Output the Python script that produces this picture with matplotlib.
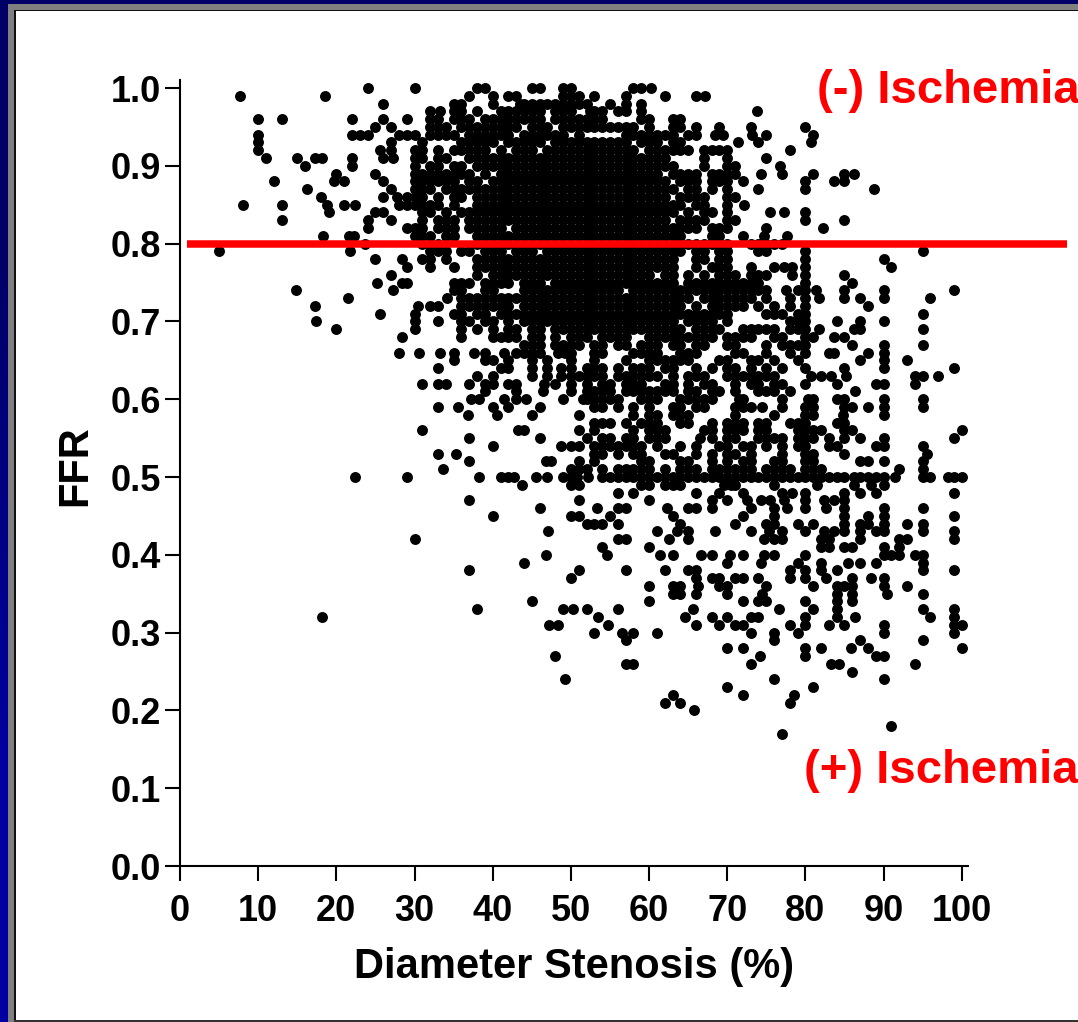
#!/usr/bin/env python3
"""FFR vs diameter stenosis scatter, slide style frame"""

import matplotlib
matplotlib.use('Agg')
import matplotlib.pyplot as plt
import numpy as np
from matplotlib.patches import Rectangle

W, H = 1078, 1022

ffr_levels = [1.00, 0.99, 0.98, 0.97, 0.96, 0.95, 0.94, 0.93, 0.92, 0.91,
              0.90, 0.89, 0.88, 0.87, 0.86, 0.85, 0.84, 0.83, 0.82, 0.81,
              0.80, 0.79, 0.78, 0.77, 0.76, 0.75, 0.74, 0.73, 0.72, 0.71,
              0.70, 0.69, 0.68, 0.67, 0.66, 0.65, 0.64, 0.63, 0.62, 0.61,
              0.60, 0.59, 0.58, 0.57, 0.56, 0.55, 0.54, 0.53, 0.52, 0.51,
              0.50, 0.49, 0.48, 0.47, 0.46, 0.45, 0.44, 0.43, 0.42, 0.41,
              0.40, 0.39, 0.38, 0.37, 0.36, 0.35, 0.34, 0.33, 0.32, 0.31,
              0.30, 0.29, 0.28, 0.27, 0.26, 0.25, 0.24, 0.23, 0.22, 0.21,
              0.20, 0.19, 0.18, 0.17]

# stenosis values, one row per ffr level
stenosis_rows = [
    [24, 30, 38, 39, 45, 46, 49, 50, 58, 59, 60.2],
    [7.7, 18.5, 37, 40, 42, 43, 49, 50, 51, 53, 57, 62, 66, 67.2],
    [26, 35, 36, 40, 43.5, 44, 45, 46, 47, 48, 49, 50, 51, 52, 55, 57, 59],
    [32, 33.3, 35, 36, 38, 41, 42, 43, 44, 45, 46, 48, 49, 50, 52.5, 53, 54, 56, 57, 59, 73.8],
    [10, 13, 22, 26, 29, 32, 33, 35, 36, 37, 39, 40, 41, 42, 43, 44, 45, 46, 48, 49, 50, 51, 52, 53, 54, 59, 60, 63, 64],
    [25, 27, 32, 33, 34, 36, 37, 38, 39, 40, 41, 42, 43, 45, 46, 47, 49, 50, 51, 52, 53, 54, 55, 56, 57, 58, 60, 63, 64, 66, 69, 73, 80],
    [10, 22, 23, 24, 28, 29, 30, 32, 33, 34, 35, 37, 38, 39, 40, 41, 42, 44, 45, 46, 47, 48, 49, 51, 57, 58, 59, 60, 61, 62, 63, 65, 66, 68.5, 69.5, 73.2, 75, 81],
    [10, 27, 31, 36, 37, 38, 39, 40, 42, 43, 44, 45, 46, 48, 49, 50, 51, 52, 53, 54, 55, 56, 57, 59, 60, 61, 63, 64, 71.4, 74, 80.7],
    [10, 25.6, 27, 30, 31, 33, 35, 36, 37, 38, 39, 41, 43, 44, 45, 47, 48, 49, 50, 51, 52, 53, 54, 55, 56, 57, 58, 60, 61, 62, 63, 64, 65, 67, 68, 69, 70, 78],
    [11, 15, 17.3, 18.2, 22, 26, 27.3, 30, 31, 33, 34, 37, 38, 39, 40, 41, 42, 43, 44, 45, 46, 47, 48, 49, 50, 51, 52, 53, 54, 55, 56, 57, 58, 59, 60, 61, 62, 67, 70, 75],
    [16, 22, 30, 32, 33, 35, 36, 38, 39, 40, 41, 42, 43, 44, 45, 46, 47, 48, 49, 50, 51, 52, 53, 54, 55, 56, 57, 58, 59, 60, 61, 62, 63, 67, 70, 71, 76.8],
    [20, 25, 30, 31, 32, 33, 34, 35, 36, 37, 39, 41, 42, 43, 44, 45, 46, 47, 48, 49, 50, 51, 52, 53, 54, 55, 56, 57, 58, 59, 60, 61, 63, 64, 65, 66, 68, 69, 70, 71, 74.3, 77, 81, 85, 86.2],
    [12, 19.7, 21, 26, 30, 31, 32, 33, 34, 35, 37, 38, 40, 41, 42, 43, 44, 45, 46, 47, 48, 49, 50, 51, 52, 53, 54, 55, 56, 57, 58, 59, 60, 61, 62, 64, 65, 66, 68, 69, 70, 72, 80, 83.7, 85],
    [16.2, 27, 30, 31, 32, 34, 35, 36, 37, 38, 39, 40, 41, 42, 43, 44, 45, 46, 47, 48, 49, 50, 51, 52, 53, 54, 55, 56, 57, 58, 59, 60, 61, 62, 63, 65, 66, 68, 70, 74, 80, 88.8],
    [18, 26, 27.8, 29, 30, 31, 33, 35, 36, 38, 39, 40, 41, 42, 43, 44, 45, 46, 47, 48, 49, 50, 51, 52, 53, 54, 55, 56, 57, 58, 59, 60, 61, 62, 64, 65, 66, 67, 70, 71],
    [8, 13, 18.8, 21, 22.4, 28, 29, 30, 31, 32, 33, 35, 38, 39, 40, 41, 42, 43, 44, 45, 46, 47, 48, 49, 50, 51, 52, 53, 54, 55, 56, 57, 58, 59, 60, 61, 62, 63, 64, 66, 67, 70, 72.2],
    [19, 25, 26, 31, 32, 34, 36, 37, 38, 39, 40, 41, 42, 43, 44, 45, 46, 47, 48, 49, 50, 51, 52, 53, 54, 55, 56, 57, 58, 59, 60, 61, 62, 63, 65, 67, 68, 70, 75.5, 77.2, 80],
    [13, 24, 27, 31, 33, 34, 35, 37, 38, 39, 40, 41, 42, 43, 44, 45, 46, 47, 48, 49, 50, 51, 52, 53, 54, 55, 56, 57, 58, 59, 60, 61, 62, 64, 65, 66, 67, 70, 71, 80, 85],
    [24, 29, 30, 31, 33, 34, 35, 37, 38, 39, 40, 41, 43, 44, 45, 46, 47, 48, 49, 50, 51, 52, 53, 54, 55, 56, 57, 58, 59, 60, 61, 62, 63, 64, 65, 66, 68, 69, 70, 75, 82.3],
    [18.3, 21.6, 22.2, 30, 31, 32, 34, 35, 38, 39, 40, 41, 42, 43, 44, 45, 46, 47, 48, 49, 50, 51, 52, 53, 54, 55, 56, 57, 58, 59, 60, 61, 62, 63, 64, 68, 69, 72, 74.7, 77.7],
    [23.7, 31, 33, 38, 39, 40, 42, 43, 44, 45, 46, 47, 48, 49, 50, 51, 52, 53, 54, 55, 56, 57, 58, 59, 60, 61, 62, 64, 65, 66, 67, 68, 69, 70, 73, 74, 75, 76, 77],
    [5, 21.8, 32, 33, 34, 36, 37, 39, 40, 41, 43, 44, 45, 47, 48, 49, 50, 51, 52, 53, 54, 55, 56, 57, 58, 59, 60, 61, 62, 63, 64, 66, 67, 69, 70, 74, 75, 80, 95],
    [25, 28.4, 31, 32, 34, 38, 39, 40, 41, 42, 43, 44, 45, 46, 47, 48, 49, 50, 51, 52, 53, 54, 55, 56, 57, 58, 59, 60, 61, 62, 63, 66, 67, 69, 70, 80, 90],
    [29, 32, 35, 38, 39, 40, 41, 42, 43, 44, 45, 46, 47, 48, 49, 50, 51, 52, 53, 54, 55, 56, 57, 58, 59, 60, 61, 62, 63, 66, 68, 69, 70, 73, 76, 77.2, 78.3, 80, 91],
    [27, 38, 40, 41, 42, 43, 44, 45, 46, 47, 48, 49, 50, 51, 52, 53, 54, 55, 56, 57, 58, 59, 60, 62, 63, 65, 67, 69, 70, 71, 73, 74, 75, 78.3, 80, 85],
    [25.2, 28.4, 29, 35, 36, 37, 39, 40, 41, 42, 44, 45, 46, 48, 49, 50, 51, 52, 53, 54, 55, 56, 57, 58, 59, 60, 61, 62, 63, 65, 66, 67, 68, 69, 70, 71, 72, 73, 74, 80, 86],
    [14.8, 27.3, 35, 36, 39, 40, 44, 45, 46, 47, 48, 49, 50, 51, 52, 53, 54, 55, 56, 58, 59, 60, 61, 62, 63, 64, 65, 66, 67, 68, 69, 70, 71, 72, 73, 74, 75, 77.5, 79, 80, 81.3, 85, 90, 99],
    [21.5, 34.2, 36, 37, 38, 39, 40, 41, 42, 43, 44, 45, 46, 47, 48, 49, 50, 51, 52, 53, 54, 55, 56, 57, 58, 59, 60, 61, 62, 63, 64, 65, 67, 68, 69, 70, 71, 72, 73, 75, 78, 80, 81.7, 85, 87, 90, 96],
    [17.3, 30.4, 32, 33, 36, 37, 38, 39, 40, 41, 42, 44, 45, 46, 47, 48, 49, 50, 51, 52, 53, 54, 55, 56, 57, 58, 59, 60, 61, 62, 63, 64, 66, 68, 69, 70, 71, 72, 74, 76, 78, 80, 88],
    [25.6, 30, 35, 36, 38, 39, 41, 42, 43, 44, 45, 46, 47, 48, 49, 50, 51, 52, 53, 54, 55, 56, 57, 58, 59, 60, 61, 62, 63, 64, 65, 66, 67, 68, 69, 70, 75, 76, 77, 79, 80, 95],
    [17.4, 30, 33, 36, 37, 39, 40, 42, 44, 45, 46, 47, 48, 49, 50, 51, 52, 53, 54, 55, 56, 57, 58, 59, 60, 61, 62, 63, 65, 66, 67, 68, 70, 78, 79, 80, 84, 87, 90],
    [20, 30, 36, 38, 40, 42, 43, 45, 46, 48, 49, 50, 51, 52, 53, 54, 55, 56, 57, 58, 59, 60, 61, 62, 63, 64, 66, 67, 68, 69, 72, 73, 74, 75, 76, 78, 79, 80, 81.7, 86.2, 87, 95],
    [28.4, 36, 40, 41, 42, 43, 45, 46, 48, 50, 51, 52, 54, 55, 56, 57, 60, 61, 62, 63, 64, 65, 66, 67, 68, 70, 71, 72, 73, 76, 77, 80, 81, 83.7, 85],
    [44, 45, 46, 48, 49, 50, 51, 53, 54, 56, 57, 59, 60, 61, 63, 64, 66, 67, 70, 71, 75, 77, 78, 79, 80, 86, 90, 95],
    [28, 30.6, 33.3, 35, 37.6, 39, 41.5, 43, 44, 45, 46, 48.3, 49.2, 50, 53, 54, 58, 59, 60, 61, 64, 65, 66, 71, 72, 75, 78, 80, 83, 83.7, 88, 90],
    [35, 39, 40, 42, 45, 47, 50, 53, 57, 60, 61, 62, 63, 64, 65, 69, 70, 73, 74, 76, 79, 87, 90, 93],
    [33, 41, 42, 45, 47, 48.7, 50, 52, 53, 54, 56, 58, 59, 60, 62, 63, 66, 68, 70, 71, 73, 75, 77, 80, 85, 90, 99],
    [38, 40, 45, 47, 48.7, 50, 51, 52, 53, 54, 56, 57, 58, 59, 60, 61, 63, 65, 66, 67, 70, 71, 72, 73, 74, 75, 76, 80.7, 82, 83.3, 85.2, 94, 95, 97],
    [31, 33, 34, 37, 39, 40, 42, 43, 46.6, 48, 50, 52, 54, 55, 57, 58, 59, 62, 63, 65, 67, 68, 71, 73, 74, 76, 77, 80, 84, 89, 90, 94],
    [39, 43, 46.4, 50, 52, 53, 54, 55, 57, 58, 59, 60, 61, 62, 63, 65, 66, 68, 69, 71, 74, 75, 76, 78, 86.4],
    [37.2, 38.2, 41.5, 43, 44.3, 49, 51.5, 52, 53, 54, 55, 56, 59, 60, 61, 64, 65, 66, 67, 68, 71.5, 72, 77, 80.3, 81, 84, 85, 90, 95],
    [33, 35.6, 40, 42, 46, 53, 54, 56, 58, 60, 63, 64, 66, 67, 71, 72, 73, 74.5, 77, 80, 81, 85, 86, 88, 90, 95],
    [36.8, 40.5, 45, 51, 58, 60, 61, 63, 64, 65, 71, 76, 80, 81, 84.8, 90],
    [53, 54, 55, 57, 59, 60, 61, 64, 65, 68, 70, 71, 72, 74, 75, 78, 79, 80, 84, 85],
    [31, 43.2, 44, 51, 53, 58, 60, 61, 62, 67, 68, 70, 71, 72, 74, 75, 79, 80, 81, 82, 85, 86, 100],
    [37, 46, 52, 54, 55, 57, 58, 60, 61, 62, 66.5, 68, 70, 71, 74, 75, 76, 77, 79, 80, 81, 83, 85, 87, 90, 99],
    [40, 48.7, 50, 51, 53, 54, 55, 56, 57, 58, 59, 61, 64, 66, 69, 70, 72, 73, 75, 77, 79, 80, 83, 84, 89, 90, 95],
    [33, 35.3, 53, 54, 56, 58, 59, 62, 63, 66, 68, 70, 71, 73, 77, 80, 81, 85, 95.5],
    [37, 46.8, 47.4, 51, 53, 59, 60, 64, 65, 68, 70, 72, 73, 76, 77, 80, 81, 87, 88, 90, 95],
    [33.6, 50, 51, 52, 54, 56, 57, 58, 59, 60, 62, 64, 65, 66, 68, 69, 70, 71, 72, 73, 75, 76, 77, 78, 80, 81, 82, 92, 95],
    [22.4, 29, 38.3, 41, 42, 42.7, 45.5, 47, 49, 50, 50.8, 52.2, 54, 55, 56, 57, 58, 59, 60, 61, 62, 63, 64, 65, 66, 67, 68, 69, 70, 71, 72, 73, 74, 75, 76, 77, 78, 79, 80, 81, 82, 83, 84, 85, 86.2, 87, 88, 89, 90, 91.4, 95, 96, 98.2, 99, 100],
    [43.8, 50, 51, 59, 60, 62, 63, 64, 69.6, 70.5, 71, 76, 81.5, 86.2, 88.4, 90],
    [56, 58, 66, 69, 72, 77, 78.3, 80, 85, 87, 89, 99],
    [37, 51, 60, 68, 70, 72.5, 74.3, 75.5, 77.2, 80, 82.4, 83.7, 85],
    [46, 53.3, 56, 57, 62.3, 65, 66, 68, 73, 76, 77.7, 80, 82.6, 85, 90, 95],
    [40, 50, 51, 55, 63, 72, 76, 85, 88, 90, 99],
    [52, 53, 54, 56, 64, 71, 75, 76, 79, 81, 85, 87, 88, 90, 93, 95],
    [47.1, 61, 63.6, 65, 68.5, 73, 75.3, 77, 80, 82.4, 83.7, 85, 87, 89, 90, 95, 99],
    [30, 56, 57, 62.5, 65, 74.7, 76, 77, 82, 83, 87, 92, 93, 99],
    [54, 60, 82, 83, 85, 86, 90, 92],
    [46.8, 54.6, 61.4, 63, 66.6, 68, 70.4, 72, 74.7, 76, 80, 90, 91, 92, 94, 95],
    [44, 70, 74.3, 79, 82, 85.4, 87, 89, 95],
    [37, 51, 57, 62, 65, 66, 78, 80, 82, 84, 95, 99],
    [50, 66, 68, 69, 71, 72, 74, 78, 80, 82.6, 86, 88.4, 90],
    [60, 63, 64, 66.3, 69, 70, 75, 81, 84, 85, 86, 90, 93],
    [63, 64, 66, 70, 74.5, 84, 86, 90.5, 95],
    [45, 60, 72, 74, 75, 80, 84, 86],
    [38, 49, 50.3, 52, 56, 65.6, 76.6, 81, 84, 95, 99],
    [18.2, 53.5, 64.6, 68, 70, 73, 74, 80, 84, 86.4, 96, 99],
    [47.2, 48.3, 54.8, 66, 69, 71, 72, 78, 80, 83, 85, 90, 99, 100],
    [53, 56.5, 58, 61, 73, 76, 79, 90, 99],
    [57, 76, 87, 95],
    [70, 72, 80, 82, 85.8, 88, 100],
    [48, 74.2, 80, 89, 90],
    [57, 58, 73, 83.3, 84.3, 94],
    [86],
    [49.2, 76, 90],
    [70, 81],
    [63, 72, 78.5],
    [62, 64, 78],
    [65.7],
    [],
    [91],
    [77],
]

x_ticks = [0, 10, 20, 30, 40, 50, 60, 70, 80, 90, 100]
y_ticks = [0.0, 0.1, 0.2, 0.3, 0.4, 0.5, 0.6, 0.7, 0.8, 0.9, 1.0]
threshold = 0.80

plt.rcParams['font.family'] = ['Liberation Sans', 'DejaVu Sans']
plt.rcParams['font.weight'] = 'bold'

fig = plt.figure(figsize=(W / 100, H / 100), dpi=100, facecolor='white')


def frame_rect(x0, y0, x1, y1, color):
    # pixel box, y measured from the top of the image
    fig.add_artist(Rectangle((x0 / W, 1 - y1 / H), (x1 - x0) / W, (y1 - y0) / H,
                             transform=fig.transFigure, color=color, lw=0, zorder=0))


# slide border
frame_rect(0, 0, W, 4, '#000066')
frame_rect(8, 4, W, 10, '#808080')
frame_rect(8, 4, 14, 1022, '#808080')
frame_rect(14, 10, W, 11.5, '#111111')
frame_rect(14, 10, 15.5, 1022, '#111111')
frame_rect(14, 1020, W, 1021.5, '#333333')
bar = fig.add_axes([0, 0, 8 / W, 1], zorder=0)
bar.imshow(np.array([[0.0], [1.0]]), aspect='auto', interpolation='bilinear',
           cmap=matplotlib.colors.LinearSegmentedColormap.from_list('b', ['#000066', '#0000A0']))
bar.axis('off')

ax = fig.add_axes([180 / W, 1 - 866 / H, (968 - 180) / W, (866 - 80) / H])
ax.patch.set_alpha(0)

x_vals = []
y_vals = []
for level, row in zip(ffr_levels, stenosis_rows):
    x_vals.extend(row)
    y_vals.extend([level] * len(row))
ax.scatter(x_vals, y_vals, s=62, color='black', linewidths=0, clip_on=False, zorder=3)

ax.plot([0.9, 113.4], [threshold, threshold], color='#ff0000', lw=5.4,
        solid_capstyle='butt', clip_on=False, zorder=4)

ax.set_xlim(0, 100.8)
ax.set_ylim(0, 1.0103)
ax.set_xticks(x_ticks)
ax.set_yticks(y_ticks)
ax.set_yticklabels([f'{v:.1f}' for v in y_ticks])
ax.spines['top'].set_visible(False)
ax.spines['right'].set_visible(False)
ax.spines['left'].set_linewidth(1.5)
ax.spines['bottom'].set_linewidth(1.5)
ax.tick_params(axis='y', length=10.8, width=1.5, labelsize=26, pad=3)
ax.tick_params(axis='x', length=10.8, width=1.5, labelsize=26, pad=9)
ax.set_xlabel('Diameter Stenosis (%)', fontsize=30, fontweight='bold', labelpad=13)
ax.set_ylabel('FFR', fontsize=30, fontweight='bold', labelpad=11, y=0.51)

ax.text(817 / W, 1 - 91 / H, '(-) Ischemia', transform=fig.transFigure, color='#ff0000',
        fontsize=34, fontweight='bold', ha='left', va='center')
ax.text(804 / W, 1 - 771 / H, '(+) Ischemia', transform=fig.transFigure, color='#ff0000',
        fontsize=34, fontweight='bold', ha='left', va='center')

fig.savefig('out.png', dpi=100)
